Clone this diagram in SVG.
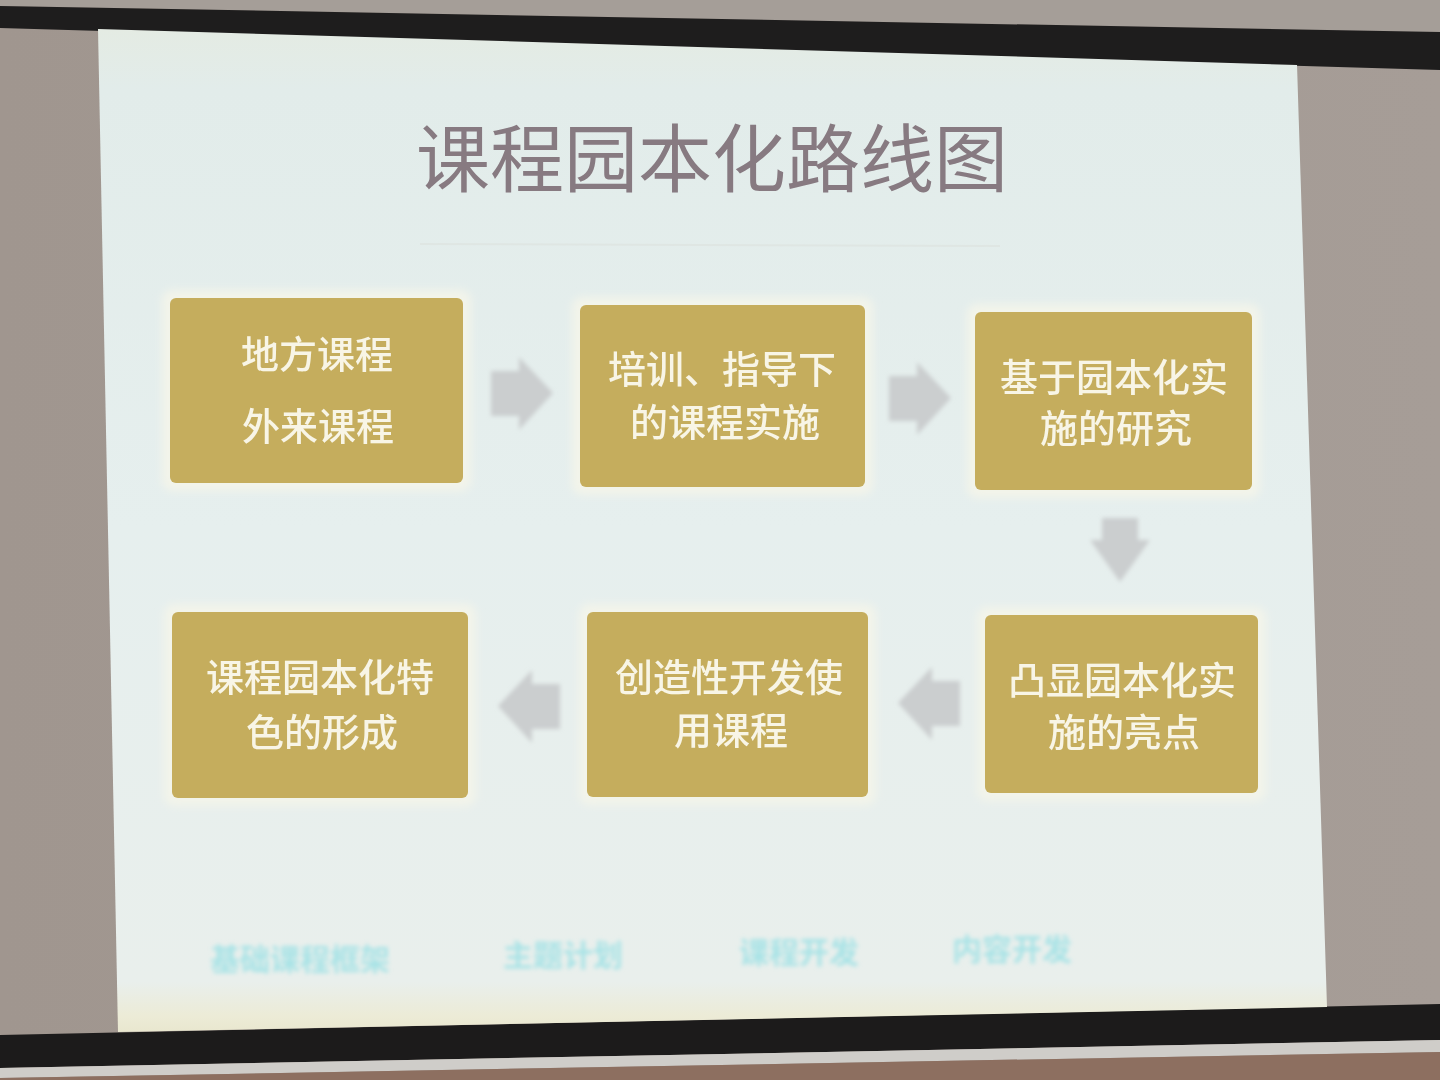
<svg xmlns="http://www.w3.org/2000/svg" width="1440" height="1080" viewBox="0 0 1440 1080">
<defs>
<linearGradient id="slideGrad" x1="0" y1="0" x2="0" y2="1">
<stop offset="0" stop-color="#e4ebe3"/>
<stop offset="0.06" stop-color="#e2ecea"/>
<stop offset="0.5" stop-color="#e6efee"/>
<stop offset="0.95" stop-color="#e9efec"/>
<stop offset="0.985" stop-color="#ecebd6"/>
<stop offset="1" stop-color="#e9e7cf"/>
</linearGradient>
<linearGradient id="wall" x1="0" y1="0" x2="1" y2="0">
<stop offset="0" stop-color="#a0968f"/>
<stop offset="1" stop-color="#a69d97"/>
</linearGradient>
<filter id="soft" x="-20%" y="-20%" width="140%" height="140%">
<feGaussianBlur stdDeviation="2"/>
</filter>
<filter id="glow" x="-10%" y="-10%" width="120%" height="120%">
<feGaussianBlur stdDeviation="4"/>
</filter>
<filter id="txt" x="-5%" y="-20%" width="110%" height="140%">
<feGaussianBlur stdDeviation="0.6"/>
</filter>
<filter id="blurText" x="-10%" y="-30%" width="120%" height="160%">
<feGaussianBlur stdDeviation="2.2"/>
</filter>
<path id="arrowR" d="M0,-22 L28,-22 L28,-36 L62,0 L28,37 L28,23 L0,23 Z"/>
<path id="arrowD" d="M-18,0 L18,0 L18,22 L30,22 L0,64 L-30,22 L-18,22 Z"/>
</defs>
<style>
.box { fill: #c5ad5d; }
.boxGlow { fill: #f3f4ea; }
.lbl { font-family: "Noto Sans CJK SC", "Noto Sans", sans-serif; font-size: 38px; font-weight: 500; fill: #f8f5e6; text-anchor: middle; filter: url(#txt); }
.arrow { fill: #cbcecf; filter: url(#soft); }
.title { font-family: "Noto Sans CJK SC", "Noto Sans", sans-serif; font-size: 74px; fill: #877a81; text-anchor: middle; filter: url(#txt); }
.foot { font-family: "Noto Sans CJK SC", "Noto Sans", sans-serif; font-size: 30px; font-weight: 700; fill: #a9e3e6; text-anchor: middle; filter: url(#blurText); }
</style>

<!-- room background -->
<rect x="0" y="0" width="1440" height="1080" fill="url(#wall)"/>
<polygon points="0,0 1440,0 1440,32 0,6" fill="#a59e98"/>
<polygon points="0,6 1440,32 1440,70 0,28" fill="#1e1d1d"/>
<polygon points="0,1035 1440,1004 1440,1040 0,1068" fill="#1c1b1b"/>
<polygon points="0,1068 1440,1040 1440,1052 0,1078" fill="#cfcdc9"/>
<polygon points="0,1078 1440,1052 1440,1080 0,1080" fill="#8d6f60"/>

<!-- slide -->
<polygon points="98,29 1297,65 1327,1007 118,1032" fill="url(#slideGrad)"/>

<!-- title -->
<text class="title" x="712" y="186">课程园本化路线图</text>
<line x1="420" y1="244" x2="1000" y2="246" stroke="#dfe6e3" stroke-width="2"/>

<!-- connectors -->
<g id="connectors">
<use href="#arrowR" class="arrow" transform="translate(491,393)"/>
<use href="#arrowR" class="arrow" transform="translate(889,398)"/>
<use href="#arrowD" class="arrow" transform="translate(1120,518)"/>
<use href="#arrowR" class="arrow" transform="translate(960,703) scale(-1,1)"/>
<use href="#arrowR" class="arrow" transform="translate(560,706) scale(-1,1)"/>
</g>

<!-- nodes -->
<g id="node1">
<rect class="boxGlow" x="162" y="290" width="309" height="201" rx="10" filter="url(#glow)"/>
<rect class="box" x="170" y="298" width="293" height="185" rx="6"/>
<text class="lbl" x="317" y="368">地方课程</text>
<text class="lbl" x="318" y="440">外来课程</text>
</g>
<g id="node2">
<rect class="boxGlow" x="572" y="297" width="301" height="198" rx="10" filter="url(#glow)"/>
<rect class="box" x="580" y="305" width="285" height="182" rx="6"/>
<text class="lbl" x="722" y="383">培训、指导下</text>
<text class="lbl" x="725" y="436">的课程实施</text>
</g>
<g id="node3">
<rect class="boxGlow" x="967" y="304" width="293" height="194" rx="10" filter="url(#glow)"/>
<rect class="box" x="975" y="312" width="277" height="178" rx="6"/>
<text class="lbl" x="1114" y="391">基于园本化实</text>
<text class="lbl" x="1116" y="442">施的研究</text>
</g>
<g id="node4">
<rect class="boxGlow" x="977" y="607" width="289" height="194" rx="10" filter="url(#glow)"/>
<rect class="box" x="985" y="615" width="273" height="178" rx="6"/>
<text class="lbl" x="1122" y="694">凸显园本化实</text>
<text class="lbl" x="1124" y="746">施的亮点</text>
</g>
<g id="node5">
<rect class="boxGlow" x="579" y="604" width="297" height="201" rx="10" filter="url(#glow)"/>
<rect class="box" x="587" y="612" width="281" height="185" rx="6"/>
<text class="lbl" x="729" y="691">创造性开发使</text>
<text class="lbl" x="731" y="744">用课程</text>
</g>
<g id="node6">
<rect class="boxGlow" x="164" y="604" width="312" height="202" rx="10" filter="url(#glow)"/>
<rect class="box" x="172" y="612" width="296" height="186" rx="6"/>
<text class="lbl" x="320" y="691">课程园本化特</text>
<text class="lbl" x="322" y="746">色的形成</text>
</g>

<!-- footer labels -->
<text class="foot" x="300" y="970">基础课程框架</text>
<text class="foot" x="563" y="966">主题计划</text>
<text class="foot" x="799" y="963">课程开发</text>
<text class="foot" x="1012" y="960">内容开发</text>
</svg>
